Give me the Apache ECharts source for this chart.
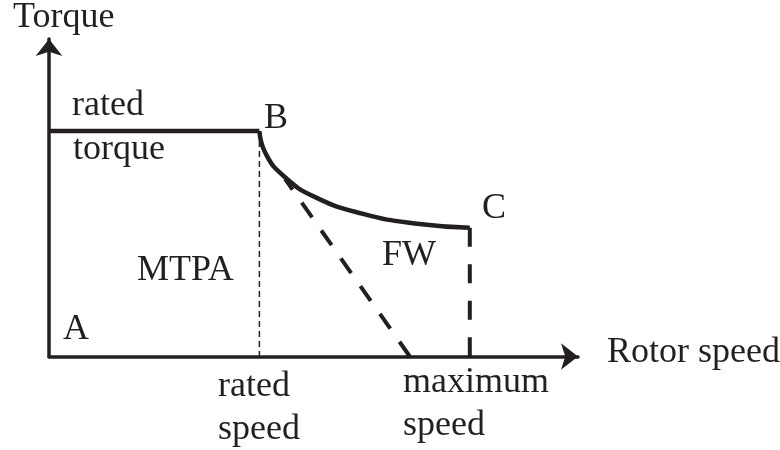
<!DOCTYPE html>
<html>
<head>
<meta charset="utf-8">
<script src="https://cdn.jsdelivr.net/npm/echarts@6/dist/echarts.min.js"></script>
<style>
  html, body { margin: 0; padding: 0; background: #fff; }
  #chart { width: 780px; height: 450px; }
</style>
</head>
<body>
<div id="chart"></div>
<script>
// operating points (speed / torque in arbitrary units)
const ratedSpeed = 4
const maxSpeed = 8
const ratedTorque = 7
const torqueAtMax = 4.0

// constant torque region A -> B
const constSpeed = [0, ratedSpeed]
const constTorque = [ratedTorque, ratedTorque]

// field weakening curve B -> C
const fwSpeed = [4, 4.12, 4.45, 5.06, 5.97, 7.0, 8]
const fwTorque = [7, 6.3, 5.62, 4.95, 4.43, 4.12, 4.0]

// dashed boundary line (drawn from the axis up to the curve)
const diagSpeed = [6.86, 4.49]
const diagTorque = [0, 5.51]

const ink = '#231f20'
const serif = '"Liberation Serif", "DejaVu Serif", serif'

const zip = (xs, ys) => xs.map((x, i) => [x, ys[i]])

function label(text, x, baseline) {
  return {
    type: 'text',
    x: x,
    y: baseline - 9.5,
    silent: true,
    style: {
      text: text,
      fill: ink,
      font: '36px ' + serif,
      textAlign: 'left',
      textVerticalAlign: 'middle',
      align: 'left',
      verticalAlign: 'middle'
    }
  }
}

function lineSeries(data, width, type) {
  return {
    type: 'line',
    data: data,
    symbol: 'none',
    silent: true,
    lineStyle: { color: ink, width: width, type: type || 'solid', cap: 'butt' }
  }
}

const chart = echarts.init(document.getElementById('chart'), null, { renderer: 'canvas' })

const axisCommon = {
  type: 'value',
  min: 0,
  axisLabel: { show: false },
  axisTick: { show: false },
  splitLine: { show: false },
  axisLine: {
    show: true,
    symbol: ['none', 'arrow'],
    symbolSize: [20, 17],
    lineStyle: { color: ink, width: 3.5 }
  }
}

const curve = lineSeries(zip(fwSpeed, fwTorque), 4.5)
curve.smooth = 0.5

chart.setOption({
  animation: false,
  grid: { left: 49, top: 39, width: 529, height: 317.5 },
  xAxis: Object.assign({}, axisCommon, { max: 10.057 }),
  yAxis: Object.assign({}, axisCommon, { max: 9.86 }),
  series: [
    lineSeries(zip(constSpeed, constTorque), 4.5),
    curve,
    lineSeries([[ratedSpeed, ratedTorque], [ratedSpeed, 0]], 1.5, [6, 4]),
    lineSeries(zip(diagSpeed, diagTorque), 4, [18, 16]),
    lineSeries([[maxSpeed, torqueAtMax], [maxSpeed, 0]], 4, [19, 17.5])
  ],
  graphic: [
    label('Torque', 13, 27),
    label('rated', 72, 115),
    label('torque', 73, 159),
    label('B', 264, 128),
    label('C', 482, 218),
    label('FW', 382, 265),
    label('MTPA', 137, 280),
    label('A', 63, 339),
    label('rated', 218, 396),
    label('speed', 218, 439),
    label('maximum', 403, 392),
    label('speed', 403, 435),
    label('Rotor speed', 607, 362)
  ]
})
</script>
</body>
</html>
